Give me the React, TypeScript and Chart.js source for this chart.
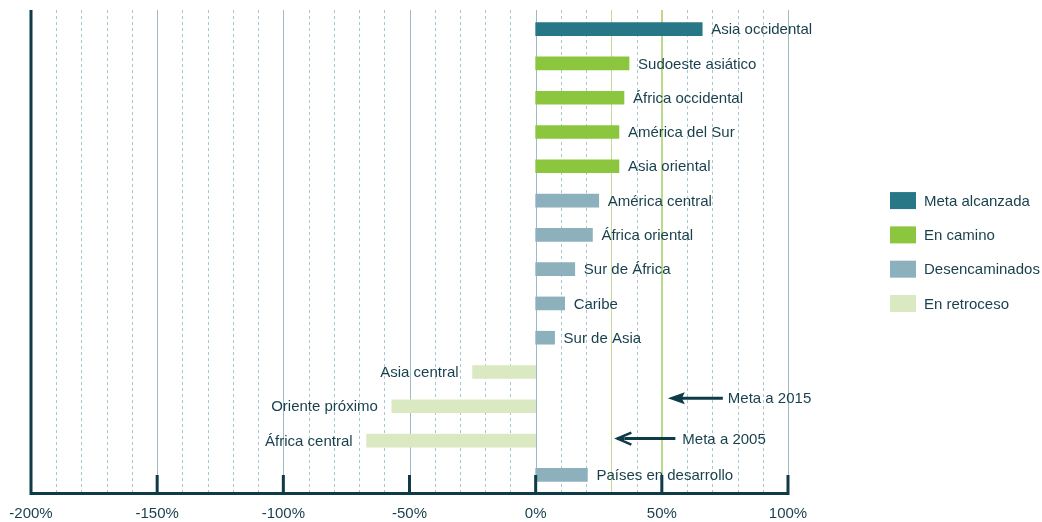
import React, { useEffect, useRef } from "react";
import { Chart, registerables } from "chart.js";

Chart.register(...registerables);

const categories = [
  "Asia occidental",
  "Sudoeste asiático",
  "África occidental",
  "América del Sur",
  "Asia oriental",
  "América central",
  "África oriental",
  "Sur de África",
  "Caribe",
  "Sur de Asia",
  "Asia central",
  "Oriente próximo",
  "África central",
  "Países en desarrollo",
];
const values = [66, 37, 35, 33, 33, 25, 22.5, 15.5, 11.5, 7.5, -25, -57, -67, 20.5];
// 0 = Meta alcanzada, 1 = En camino, 2 = Desencaminados, 3 = En retroceso
const statuses = [0, 1, 1, 1, 1, 2, 2, 2, 2, 2, 3, 3, 3, 2];
const statusNames = ["Meta alcanzada", "En camino", "Desencaminados", "En retroceso"];
const statusColors = ["#277787", "#8cc63f", "#8cb0bc", "#dbe9c3"];
const goals = [
  { label: "Meta a 2015", value: 50 },
  { label: "Meta a 2005", value: 30 },
];
const xMin = -200;
const xMax = 100;

const TEXT = "#173f4c";
const AXIS = "#0f3a47";
const FONT = "'Liberation Sans', Arial, sans-serif";

const decorPlugin = {
  id: "decor",
  beforeDatasetsDraw(chart: any) {
    const { ctx, chartArea, scales } = chart;
    const x = scales.x;
    const top = chartArea.top - 2;
    const bottom = chartArea.bottom;
    ctx.save();
    for (let v = xMin; v <= xMax; v += 10) {
      const px = Math.round(x.getPixelForValue(v)) + 0.5;
      ctx.beginPath();
      if (v % 50 === 0) {
        ctx.setLineDash([]);
        ctx.strokeStyle = "#9dbac5";
      } else {
        ctx.setLineDash([3, 3]);
        ctx.strokeStyle = "#a6c6d2";
      }
      ctx.lineWidth = 1;
      ctx.moveTo(px, top);
      ctx.lineTo(px, bottom);
      ctx.stroke();
    }
    ctx.setLineDash([]);
    // goal lines
    const g30 = Math.round(x.getPixelForValue(goals[1].value)) + 0.5;
    ctx.strokeStyle = "#c2dc98";
    ctx.lineWidth = 1;
    ctx.beginPath();
    ctx.moveTo(g30, top);
    ctx.lineTo(g30, bottom);
    ctx.stroke();
    const g50 = Math.round(x.getPixelForValue(goals[0].value));
    ctx.strokeStyle = "#bcdb8a";
    ctx.lineWidth = 2;
    ctx.beginPath();
    ctx.moveTo(g50, top);
    ctx.lineTo(g50, bottom);
    ctx.stroke();
    ctx.restore();
  },
  afterDatasetsDraw(chart: any) {
    const { ctx, chartArea, scales } = chart;
    const x = scales.x;
    const y = scales.y;
    ctx.save();
    // axes
    const left = x.getPixelForValue(xMin);
    const right = x.getPixelForValue(xMax);
    const bottom = chartArea.bottom;
    ctx.strokeStyle = AXIS;
    ctx.lineWidth = 3;
    ctx.beginPath();
    ctx.moveTo(left, chartArea.top - 2);
    ctx.lineTo(left, bottom + 1.5);
    ctx.lineTo(right + 1.5, bottom + 1.5);
    ctx.stroke();
    for (let v = xMin + 50; v <= xMax; v += 50) {
      const px = x.getPixelForValue(v);
      ctx.beginPath();
      ctx.moveTo(px, bottom - 17);
      ctx.lineTo(px, bottom);
      ctx.stroke();
    }
    // bar labels
    ctx.font = `15px ${FONT}`;
    ctx.fillStyle = TEXT;
    ctx.textBaseline = "middle";
    const meta = chart.getDatasetMeta(0);
    meta.data.forEach((bar: any, i: number) => {
      const v = values[i];
      if (v >= 0) {
        ctx.textAlign = "left";
        ctx.fillText(categories[i], bar.x + 9, bar.y + 1);
      } else {
        ctx.textAlign = "right";
        ctx.fillText(categories[i], bar.x - 14, bar.y + 1);
      }
    });
    // goal arrows
    const drawArrow = (tipX: number, tailX: number, yy: number, filled: boolean) => {
      ctx.strokeStyle = AXIS;
      ctx.fillStyle = AXIS;
      ctx.lineWidth = 3;
      ctx.beginPath();
      ctx.moveTo(tailX, yy);
      ctx.lineTo(tipX + 8, yy);
      ctx.stroke();
      if (filled) {
        ctx.beginPath();
        ctx.moveTo(tipX, yy);
        ctx.lineTo(tipX + 17, yy - 6);
        ctx.lineTo(tipX + 14, yy);
        ctx.lineTo(tipX + 17, yy + 6);
        ctx.closePath();
        ctx.fill();
      } else {
        ctx.lineWidth = 2.5;
        ctx.beginPath();
        ctx.moveTo(tipX + 15, yy - 6);
        ctx.lineTo(tipX + 1, yy);
        ctx.lineTo(tipX + 15, yy + 6);
        ctx.stroke();
        ctx.beginPath();
        ctx.lineWidth = 3;
        ctx.moveTo(tipX + 8, yy);
        ctx.lineTo(tipX + 1, yy);
        ctx.stroke();
      }
    };
    const y2015 = (y.getPixelForValue(10) + y.getPixelForValue(11)) / 2 + 9;
    const y2005 = y.getPixelForValue(12) - 2;
    const t2015 = x.getPixelForValue(goals[0].value) + 6;
    const t2005 = x.getPixelForValue(goals[1].value) + 5;
    drawArrow(t2015, t2015 + 55, y2015, true);
    drawArrow(t2005, t2005 + 59, y2005, false);
    ctx.fillStyle = TEXT;
    ctx.textAlign = "left";
    ctx.font = `15px ${FONT}`;
    ctx.fillText(goals[0].label, t2015 + 60, y2015 + 1);
    ctx.fillText(goals[1].label, t2005 + 66, y2005 + 1);
    // legend
    const lx = right + 102;
    const ly0 = y.getPixelForValue(5);
    statusNames.forEach((name, i) => {
      const cy = ly0 + i * 34.3;
      ctx.fillStyle = statusColors[i];
      ctx.fillRect(lx, cy - 8.5, 26, 17);
      ctx.fillStyle = TEXT;
      ctx.fillText(name, lx + 34, cy + 1);
    });
    ctx.restore();
  },
};

export default function App() {
  const canvasRef = useRef<HTMLCanvasElement | null>(null);
  useEffect(() => {
    if (!canvasRef.current) return;
    const chart = new Chart(canvasRef.current, {
      type: "bar",
      data: {
        labels: categories,
        datasets: [
          {
            data: values,
            backgroundColor: statuses.map((s) => statusColors[s]),
            barThickness: 13,
            borderWidth: 0,
          },
        ],
      },
      options: {
        indexAxis: "y",
        animation: false,
        responsive: false,
        maintainAspectRatio: false,
        layout: { padding: { left: 31, right: 254, top: 12, bottom: 0 } },
        plugins: { legend: { display: false }, tooltip: { enabled: false } },
        scales: {
          x: {
            type: "linear",
            min: xMin,
            max: xMax,
            grid: { display: false, drawTicks: false },
            border: { display: false },
            afterFit: (scale: any) => {
              scale.height = 30;
              scale.paddingLeft = 0;
              scale.paddingRight = 0;
            },
            ticks: {
              stepSize: 10,
              autoSkip: false,
              maxRotation: 0,
              padding: 13,
              color: TEXT,
              font: { family: FONT, size: 15 },
              callback: (v: any) => (Number(v) % 50 === 0 ? `${v}%` : ""),
            },
          },
          y: {
            display: false,
            grid: { display: false },
          },
        },
      },
      plugins: [decorPlugin],
    });
    return () => chart.destroy();
  }, []);
  return (
    <div style={{ position: "fixed", left: 0, top: 0, width: 1042, height: 522, background: "#fff" }}>
      <canvas ref={canvasRef} width={1042} height={522} style={{ width: 1042, height: 522, display: "block" }} />
    </div>
  );
}
